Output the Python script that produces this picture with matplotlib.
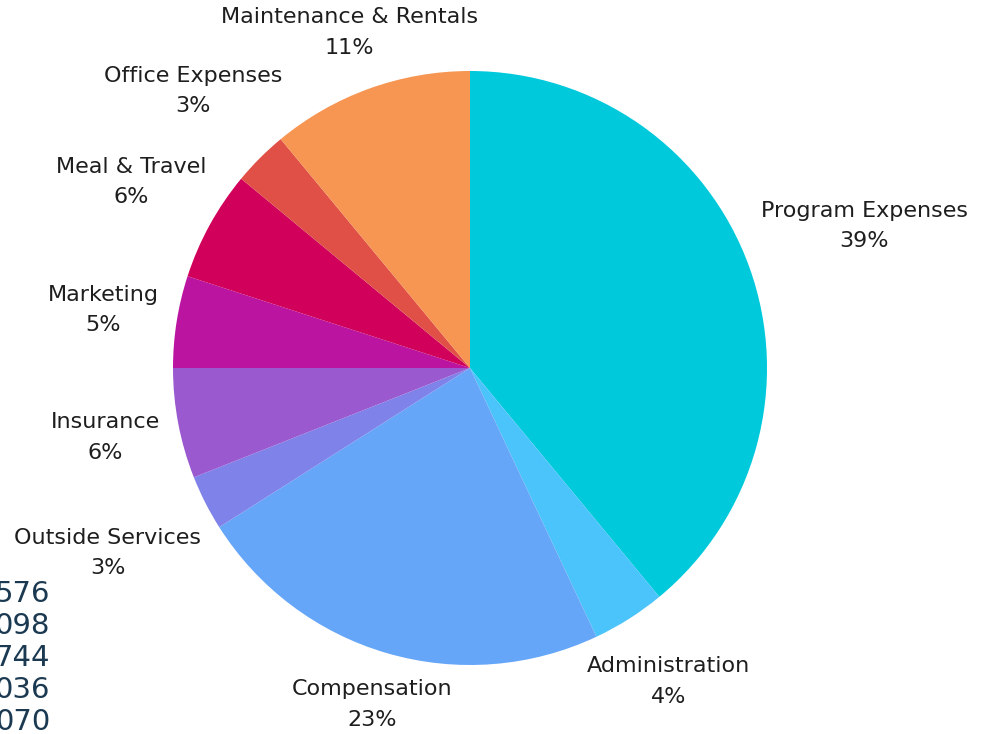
import numpy as np
import matplotlib
matplotlib.use("Agg")
import matplotlib.pyplot as plt

plt.rcParams.update({
    "font.family": ["DejaVu Sans"],
})

# slices in drawing order (clockwise from 12 o'clock)
categories = ["Program Expenses", "Administration", "Compensation",
              "Outside Services", "Insurance", "Marketing",
              "Meal & Travel", "Office Expenses", "Maintenance & Rentals"]
shares = [39, 4, 23, 3, 6, 5, 6, 3, 11]
colors = ["#00C9DC", "#4BC4FB", "#66A6F9", "#7F82E9", "#9B59CF",
          "#BA14A0", "#D1005A", "#E05046", "#F79552"]
# how far out each label sits, in radii
label_dist = [1.41, 1.25, 1.18, 1.37, 1.25, 1.25, 1.30, 1.32, 1.20]

# clipped figures from a table at the lower left
side_numbers = ["576", "098", "744", "036", "070"]

W, H = 987, 734
fig = plt.figure(figsize=(W / 100, H / 100), dpi=100)
ax = fig.add_axes([0, 0, 1, 1])

cx, cy, r = 470, H - 368, 297
wedges, _ = ax.pie(shares, colors=colors, startangle=90, counterclock=False,
                   center=(cx, cy), radius=r, frame=True,
                   wedgeprops={"linewidth": 0})
ax.set_xlim(0, W)
ax.set_ylim(0, H)
ax.axis("off")

total = sum(shares)
start = 90.0
for name, val, d in zip(categories, shares, label_dist):
    sweep = val / total * 360
    mid = np.deg2rad(start - sweep / 2)
    start -= sweep
    x = cx + d * r * np.cos(mid)
    y = cy + d * r * np.sin(mid)
    ax.text(x, y, f"{name}\n{val / total:.0%}", ha="center", va="center",
            fontsize=16, color="#1E1E1E", linespacing=1.65)

for i, num in enumerate(side_numbers):
    ax.text(50, H - 594 - 32 * i, num, ha="right", va="center",
            fontsize=21, color="#1B3A52")

fig.savefig("out.png", dpi=100)
plt.close(fig)
